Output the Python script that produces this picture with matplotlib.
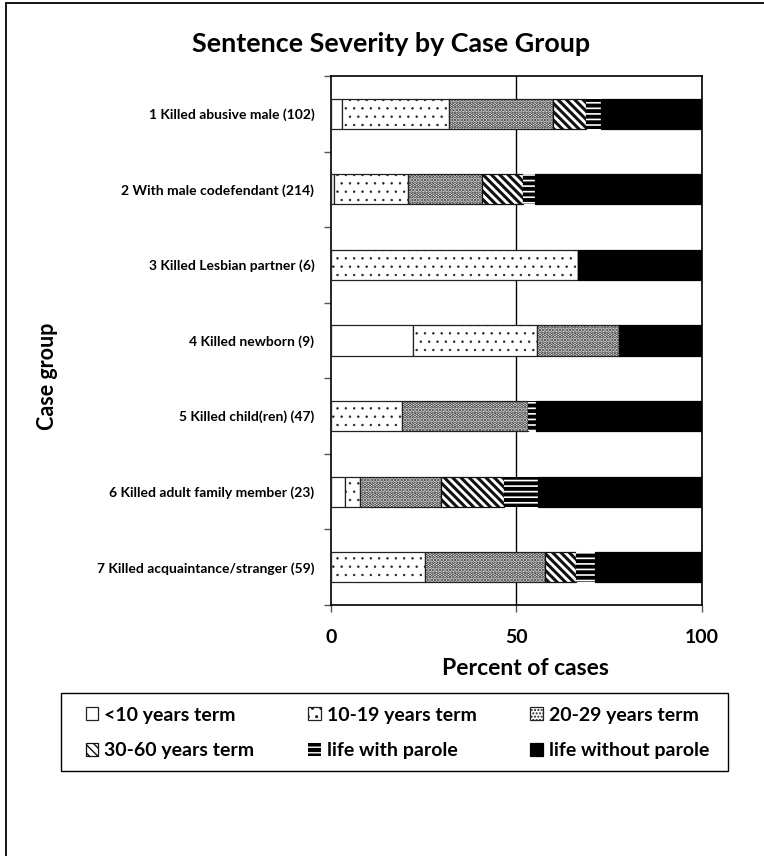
import matplotlib.pyplot as plt
import matplotlib.patches as mpatches
import numpy as np

plt.rcParams['font.family'] = ['Lato', 'DejaVu Sans']
plt.rcParams['font.weight'] = 'bold'

categories = ["1 Killed abusive male (102)",
              "2 With male codefendant (214)",
              "3 Killed Lesbian partner (6)",
              "4 Killed newborn (9)",
              "5 Killed child(ren) (47)",
              "6 Killed adult family member (23)",
              "7 Killed acquaintance/stranger (59)"]

under10 = [2.9, 0.9, 0.0, 22.2, 0.0, 3.8, 0.0]
y10_19 = [28.9, 19.9, 66.7, 33.3, 19.1, 3.9, 25.4]
y20_29 = [28.1, 19.9, 0.0, 22.2, 34.0, 22.1, 32.2]
y30_60 = [9.0, 11.1, 0.0, 0.0, 0.0, 17.0, 8.5]
life_parole = [3.9, 3.2, 0.0, 0.0, 2.1, 9.0, 5.1]
life_no_parole = [27.2, 45.0, 33.3, 22.2, 44.8, 44.2, 28.8]

series = [under10, y10_19, y20_29, y30_60, life_parole, life_no_parole]
names = ["<10 years term", "10-19 years term", "20-29 years term",
         "30-60 years term", "life with parole", "life without parole"]
# face, edge, hatch, hatch linewidth
styles = [('white', '#222222', None, 1.0),
          ('white', '#222222', '..', 0.5),
          ('white', '#222222', '.....', 1.8),
          ('white', '#111111', '\\\\\\\\', 2.2),
          ('black', 'white', '---', 1.2),
          ('black', 'black', None, 1.0)]

fig = plt.figure(figsize=(7.64, 8.56), dpi=100)
ax = fig.add_axes([0.4332, 0.2932, 0.4853, 0.618])

y = np.arange(len(categories))
left = np.zeros(len(categories))
handles = []
for vals, name, (fc, ec, hatch, hlw) in zip(series, names, styles):
    plt.rcParams['hatch.linewidth'] = hlw
    vals = np.array(vals)
    bars = ax.barh(y, vals, left=left, height=0.4, color=fc, edgecolor=ec,
                   hatch=hatch, linewidth=0.9 if ec != 'white' else 0,
                   label=name, zorder=3)
    handles.append(bars)
    left = left + vals

ax.set_xlim(0, 100)
ax.set_ylim(len(categories) - 0.5, -0.5)
ax.set_xticks([0, 50, 100])
ax.set_xticklabels(['0', '50', '100'], fontsize=14, fontweight='bold')
ax.set_yticks(y)
ax.set_yticklabels(categories, fontsize=10, fontweight='bold')
ax.set_yticks(np.arange(-0.5, len(categories) + 0.5, 1), minor=True)
ax.tick_params(axis='y', which='major', length=0, pad=12)
ax.tick_params(axis='y', which='minor', length=5, width=1, color='#555555')
ax.tick_params(axis='x', length=5, width=1, color='#555555', pad=12)
for v in [50, 100]:
    ax.axvline(v, color='black', lw=1, zorder=1)
for s in ax.spines.values():
    s.set_linewidth(1.2)
    s.set_color('black')

fig.text(0.512, 0.939, "Sentence Severity by Case Group", fontsize=19.4,
         fontweight='bold', ha='center', va='baseline')
fig.text(48 / 764, 1 - 376 / 856, "Case group", fontsize=15.5, fontweight='bold',
         rotation=90, ha='center', va='center')
fig.text(525 / 764, 1 - 675 / 856, "Percent of cases", fontsize=16.5,
         fontweight='bold', ha='center', va='baseline')

# legend is filled column by column, so reorder to read row by row
order = [0, 3, 1, 4, 2, 5]
plt.rcParams['hatch.linewidth'] = 1.0
leg = fig.legend(handles=[handles[i] for i in order],
                 loc='center', mode='expand',
                 bbox_to_anchor=(76 / 764, 1 - 772 / 856, 643 / 764, 78 / 856),
                 ncol=3, fontsize=14, frameon=False,
                 handlelength=0.65, handleheight=0.65,
                 handletextpad=0.3, labelspacing=0.95, borderpad=0)

fig.add_artist(mpatches.Rectangle((61 / 764, 1 - 771 / 856), 667 / 764, 78 / 856,
                                  transform=fig.transFigure, fill=False,
                                  ec='black', lw=1))
fig.add_artist(mpatches.Rectangle((6 / 764, -0.01), 1.0, 1 - 3 / 856 + 0.01,
                                  transform=fig.transFigure, fill=False,
                                  ec='black', lw=1.3))

fig.savefig('out.png', dpi=100)
